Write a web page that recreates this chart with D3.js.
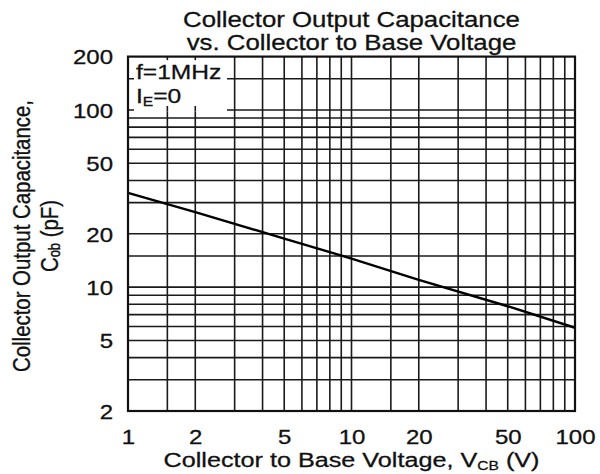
<!DOCTYPE html>
<html>
<head>
<meta charset="utf-8">
<script src="https://cdn.jsdelivr.net/npm/d3@7"></script>
<style>
  body { margin: 0; background: #fff; }
  svg { display: block; }
  text { font-family: "Liberation Sans", Arial, sans-serif; fill: #111; stroke: #111; stroke-width: 0.3; }
</style>
</head>
<body>
<svg id="chart" width="600" height="474"></svg>
<script>
// Cob vs VCB characteristic (f = 1 MHz, IE = 0)
const voltage = [1, 2, 5, 10, 20, 50, 100];
const capacitance = [34, 26.5, 18.8, 14.5, 11, 7.8, 5.9];

// Grid lines of the log-log chart paper
const xGridValues = [1.5, 2, 3, 4, 5, 6, 7, 8, 9, 10, 15, 20, 30, 40, 50, 60, 70, 80, 90];
const yGridValues = [3, 4, 5, 6, 7, 8, 9, 10, 15, 20, 30, 40, 50, 60, 70, 80, 90, 100, 150];

// Labelled ticks
const xTickValues = [1, 2, 5, 10, 20, 50, 100];
const yTickValues = [2, 5, 10, 20, 50, 100, 200];

const titleLines = ["Collector Output Capacitance", "vs. Collector to Base Voltage"];

const svg = d3.select("#chart");
const plotLeft = 128, plotRight = 575, plotTop = 56.6, plotBottom = 411;
const stretch = 1.2;   // wide lettering used throughout the sheet

const x = d3.scaleLog().domain([1, 100]).range([plotLeft, plotRight]);
const y = d3.scaleLog().domain([2, 200]).range([plotBottom, plotTop]);

const place = (px, py) => `translate(${px},${py}) scale(${stretch},1)`;

// Title
svg.append("g").selectAll("text").data(titleLines).join("text")
  .attr("transform", (d, i) => place((plotLeft + plotRight) / 2, 27 + i * 23))
  .attr("text-anchor", "middle")
  .attr("font-size", 21.5)
  .text(d => d);

// Grid
const grid = svg.append("g").attr("stroke", "#1a1a1a").attr("stroke-width", 1.6);
grid.selectAll("line.v").data(xGridValues).join("line").attr("class", "v")
  .attr("x1", d => x(d)).attr("x2", d => x(d))
  .attr("y1", plotTop).attr("y2", plotBottom);
grid.selectAll("line.h").data(yGridValues).join("line").attr("class", "h")
  .attr("x1", plotLeft).attr("x2", plotRight)
  .attr("y1", d => y(d)).attr("y2", d => y(d));

// Legend panel cut out of the grid
const boxX0 = plotLeft + 6, boxX1 = 227, boxY0 = plotTop + 3.5, boxY1 = y(100) + 1.5;
svg.append("rect")
  .attr("x", boxX0).attr("y", boxY0)
  .attr("width", boxX1 - boxX0).attr("height", boxY1 - boxY0)
  .attr("fill", "#fff");
svg.append("g").attr("stroke", "#1a1a1a").attr("stroke-width", 1.6)
  .selectAll("line").data(xGridValues.filter(d => x(d) < boxX1)).join("line")
  .attr("x1", d => x(d)).attr("x2", d => x(d))
  .attr("y1", y(100) - 4).attr("y2", y(100) + 1.5);

const legend = svg.append("g").attr("font-size", 20.5);
legend.append("text").attr("transform", place(136, 79)).text("f=1MHz");
const ie = legend.append("text").attr("transform", place(136, 103));
ie.append("tspan").text("I");
ie.append("tspan").attr("font-size", 13).attr("dy", 3).text("E");
ie.append("tspan").attr("dy", -3).text("=0");

// Characteristic curve
const line = d3.line().x((d, i) => x(voltage[i])).y(d => y(d));
svg.append("path")
  .datum(capacitance)
  .attr("d", line)
  .attr("fill", "none")
  .attr("stroke", "#000")
  .attr("stroke-width", 2.4);

// Frame
svg.append("rect")
  .attr("x", plotLeft).attr("y", plotTop)
  .attr("width", plotRight - plotLeft).attr("height", plotBottom - plotTop)
  .attr("fill", "none").attr("stroke", "#111").attr("stroke-width", 2.2);

// Axes
const xAxis = svg.append("g").attr("transform", `translate(0,${plotBottom})`)
  .call(d3.axisBottom(x).tickValues(xTickValues).tickFormat(d3.format("d")).tickSize(0));
xAxis.select(".domain").remove();
xAxis.selectAll("text")
  .attr("font-family", null).attr("font-size", 20).attr("fill", "#111")
  .attr("x", 0).attr("y", 0).attr("dy", 0)
  .attr("transform", place(0, 32.5));

const yAxis = svg.append("g").attr("transform", `translate(${plotLeft},0)`)
  .call(d3.axisLeft(y).tickValues(yTickValues).tickFormat(d3.format("d")).tickSize(0));
yAxis.select(".domain").remove();
yAxis.selectAll("text")
  .attr("font-family", null).attr("font-size", 20).attr("fill", "#111")
  .attr("x", 0).attr("dy", "0.36em")
  .attr("transform", place(-15, 0));

// Axis titles
const xTitle = svg.append("text")
  .attr("transform", place((plotLeft + plotRight) / 2, 467))
  .attr("text-anchor", "middle").attr("font-size", 21);
xTitle.append("tspan").text("Collector to Base Voltage, V");
xTitle.append("tspan").attr("font-size", 13).attr("dy", 2.5).text("CB");
xTitle.append("tspan").attr("dy", -2.5).text(" (V)");

const yTitle = svg.append("g")
  .attr("transform", `translate(0,236) scale(${stretch},1) rotate(-90)`);
yTitle.append("text").attr("x", 0).attr("y", 25)
  .attr("text-anchor", "middle").attr("font-size", 20.4)
  .text("Collector Output Capacitance,");
const yt2 = yTitle.append("text").attr("x", 0).attr("y", 48)
  .attr("text-anchor", "middle").attr("font-size", 20.4);
yt2.append("tspan").text("C");
yt2.append("tspan").attr("font-size", 13).attr("dy", 2).text("ob");
yt2.append("tspan").attr("dy", -2).text(" (pF)");
</script>
</body>
</html>
